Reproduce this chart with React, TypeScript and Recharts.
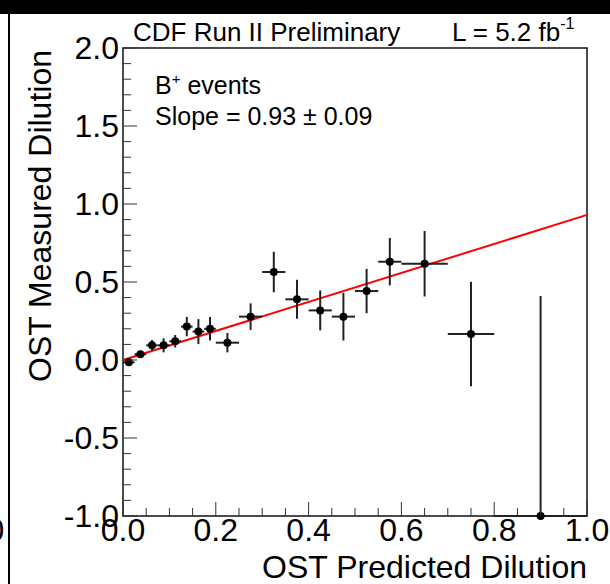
import { ComposedChart, Scatter, ErrorBar, XAxis, YAxis, ReferenceLine, ReferenceArea } from 'recharts'

const xVals = [0.0125, 0.0375, 0.0625, 0.0875, 0.1125, 0.1375, 0.1625, 0.1875, 0.225, 0.275, 0.325, 0.375, 0.425, 0.475, 0.525, 0.575, 0.65, 0.75, 0.9]
const yVals = [-0.015, 0.037, 0.094, 0.094, 0.12, 0.214, 0.182, 0.2, 0.111, 0.278, 0.564, 0.389, 0.318, 0.278, 0.442, 0.63, 0.617, 0.167, -1.0]
const xErr = [0.0125, 0.0125, 0.0125, 0.0125, 0.0125, 0.0125, 0.0125, 0.0125, 0.025, 0.025, 0.025, 0.025, 0.025, 0.025, 0.025, 0.025, 0.05, 0.05, 0.1]
const yErrLow = [0.01, 0.016, 0.035, 0.045, 0.04, 0.062, 0.08, 0.075, 0.062, 0.085, 0.13, 0.125, 0.128, 0.153, 0.142, 0.152, 0.21, 0.335, 0]
const yErrHigh = [0.01, 0.016, 0.035, 0.045, 0.04, 0.062, 0.08, 0.075, 0.062, 0.085, 0.13, 0.125, 0.128, 0.153, 0.142, 0.152, 0.21, 0.335, 1.41]

// linear fit, slope 0.93
const fitX = [0, 1]
const fitY = [0.0, 0.93]

const xTicks = [0, 0.05, 0.1, 0.15, 0.2, 0.25, 0.3, 0.35, 0.4, 0.45, 0.5, 0.55, 0.6, 0.65, 0.7, 0.75, 0.8, 0.85, 0.9, 0.95, 1.0]
const xMajor = [0, 0.2, 0.4, 0.6, 0.8, 1.0]
const yTicks = [-1, -0.9, -0.8, -0.7, -0.6, -0.5, -0.4, -0.3, -0.2, -0.1, 0, 0.1, 0.2, 0.3, 0.4, 0.5, 0.6, 0.7, 0.8, 0.9, 1.0, 1.1, 1.2, 1.3, 1.4, 1.5, 1.6, 1.7, 1.8, 1.9, 2.0]
const yMajor = [-1, -0.5, 0, 0.5, 1.0, 1.5, 2.0]

const FONT = '"Liberation Sans", Arial, Helvetica, sans-serif'
const TICK_COLOR = '#333'

const isMajor = (v: number, list: number[]) => list.some((m) => Math.abs(m - v) < 1e-6)

function XTick(props: any) {
  const { x, y, payload } = props
  const v = payload.value
  const major = isMajor(v, xMajor)
  return (
    <g>
      <line x1={x} x2={x} y1={y} y2={y - (major ? 14 : 8)} stroke={TICK_COLOR} strokeWidth={1} />
      {major && (
        <text x={x} y={y + 25} textAnchor="middle" fontSize={32} fontFamily={FONT} fill="#000">
          {v.toFixed(1)}
        </text>
      )}
    </g>
  )
}

function YTick(props: any) {
  const { x, y, payload } = props
  const v = payload.value
  const major = isMajor(v, yMajor)
  return (
    <g>
      <line x1={x} x2={x + (major ? 14 : 8)} y1={y} y2={y} stroke={TICK_COLOR} strokeWidth={1} />
      {major && (
        <text x={x - 4} y={y + 11} textAnchor="end" fontSize={32} fontFamily={FONT} fill="#000">
          {v.toFixed(1)}
        </text>
      )}
    </g>
  )
}

export default function App() {
  const data = xVals.map((x, i) => ({
    x,
    y: yVals[i],
    ex: xErr[i],
    ey: [yErrLow[i], yErrHigh[i]],
  }))

  return (
    <div style={{ position: 'absolute', left: 0, top: 0, width: 610, height: 584, background: '#fff', overflow: 'hidden' }}>
      <ComposedChart
        width={610}
        height={584}
        data={data}
        margin={{ top: 48, right: 23, bottom: 67, left: 122 }}
      >
        <XAxis
          dataKey="x"
          type="number"
          domain={[0, 1]}
          ticks={xTicks}
          interval={0}
          height={1}
          tickSize={0}
          tickMargin={0}
          tickLine={false}
          axisLine={false}
          tick={<XTick />}
        />
        <YAxis
          dataKey="y"
          type="number"
          domain={[-1, 2]}
          ticks={yTicks}
          interval={0}
          width={1}
          tickSize={0}
          tickMargin={0}
          tickLine={false}
          axisLine={false}
          tick={<YTick />}
        />
        <ReferenceArea x1={0} x2={1} y1={-1} y2={2} fill="none" stroke="#111" strokeWidth={1.5} />
        <ReferenceLine
          segment={[
            { x: fitX[0], y: fitY[0] },
            { x: fitX[1], y: fitY[1] },
          ]}
          stroke="#ff0000"
          strokeWidth={2}
        />
        <Scatter
          data={data}
          isAnimationActive={false}
          shape={(p: any) => <circle cx={p.cx} cy={p.cy} r={4} fill="#000" />}
        >
          <ErrorBar dataKey="ex" direction="x" width={0} stroke="#222" strokeWidth={2} />
          <ErrorBar dataKey="ey" direction="y" width={0} stroke="#222" strokeWidth={2} />
        </Scatter>
      </ComposedChart>

      <svg width={610} height={584} style={{ position: 'absolute', left: 0, top: 0, pointerEvents: 'none' }}>
        <rect x={0} y={0} width={610} height={14} fill="#000" />
        <rect x={8} y={14} width={2} height={570} fill="#000" />
        <text x={-13} y={541} fontSize={31} fontFamily={FONT} fill="#000">0</text>
        <text x={133} y={41} fontSize={26} fontFamily={FONT} fill="#000">CDF Run II Preliminary</text>
        <text x={452} y={41} fontSize={26} fontFamily={FONT} fill="#000">
          L = 5.2 fb<tspan dy={-12} fontSize={16}>-1</tspan>
        </text>
        <text x={155} y={94} fontSize={25} fontFamily={FONT} fill="#000">
          B<tspan dy={-10} fontSize={15}>+</tspan>
          <tspan dy={10}> events</tspan>
        </text>
        <text x={155} y={125} fontSize={25} fontFamily={FONT} fill="#000">Slope = 0.93 ± 0.09</text>
        <text
          x={0}
          y={0}
          transform="translate(51, 50) rotate(-90)"
          textAnchor="end"
          fontSize={32}
          fontFamily={FONT}
          fill="#000"
        >
          OST Measured Dilution
        </text>
        <text x={587} y={578} textAnchor="end" fontSize={32} fontFamily={FONT} fill="#000">
          OST Predicted Dilution
        </text>
      </svg>
    </div>
  )
}
